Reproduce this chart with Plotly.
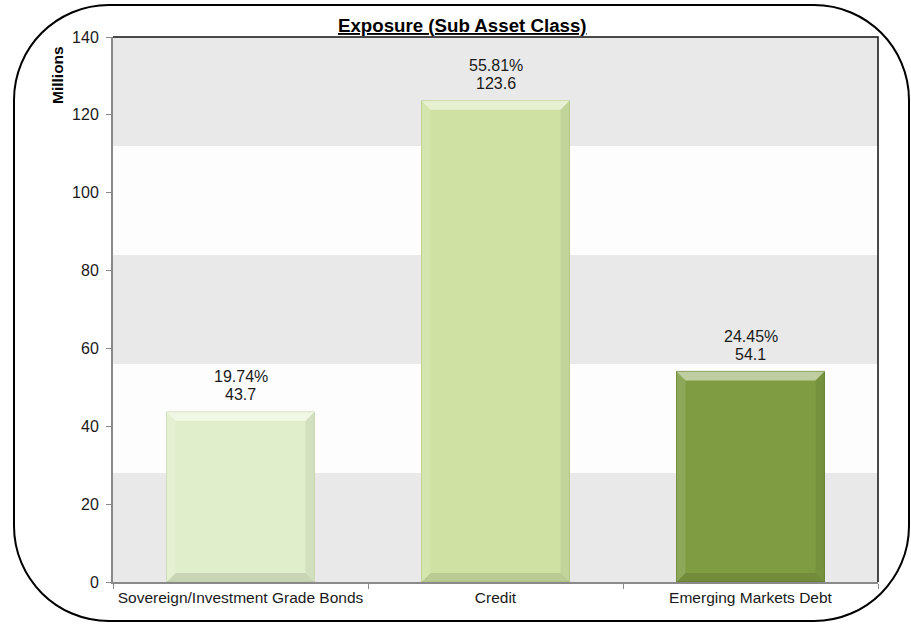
import plotly.graph_objects as go

# Exposure by sub asset class (values in millions)
categories = ["Sovereign/Investment Grade Bonds", "Credit", "Emerging Markets Debt"]
exposure = [43.7, 123.6, 54.1]
share_pct = ["19.74%", "55.81%", "24.45%"]
bar_colors = ["#e1eecb", "#cfe2a3", "#7f9c42"]
edge_colors = ["#cfdcb6", "#bccf8c", "#6a8533"]
y_ticks = [0, 20, 40, 60, 80, 100, 120, 140]

W, H = 911, 624
ML, MR, MT, MB = 113, 33, 37, 42
PW, PH = W - ML - MR, H - MT - MB
y_max = 140
font_family = "Arial, Liberation Sans, sans-serif"
text_color = "#1a1a1a"

fig = go.Figure()
fig.add_trace(go.Bar(
    x=categories,
    y=exposure,
    marker=dict(color=bar_colors, line=dict(color=edge_colors, width=1)),
    width=0.58,
    hoverinfo="skip",
))

shapes = []

# alternating horizontal bands behind the bars
n_bands = 5
step = y_max / n_bands
for k in range(n_bands):
    shapes.append(dict(
        type="rect", xref="paper", yref="y", layer="below",
        x0=0, x1=1, y0=k * step, y1=(k + 1) * step,
        fillcolor="#e9e9e9" if k % 2 == 0 else "#fdfdfd",
        line=dict(width=0),
    ))

# bevel highlights / shading on each bar
px_x = 1.0 / (PW / 3)        # one pixel in category units
px_y = y_max / PH            # one pixel in value units
bev = 9
half = 0.29
for i, v in enumerate(exposure):
    x0, x1 = i - half, i + half
    bx, by = bev * px_x, bev * px_y
    # top highlight
    shapes.append(dict(
        type="path", xref="x", yref="y", layer="above",
        path=f"M {x0},{v} L {x1},{v} L {x1-bx},{v-by} L {x0+bx},{v-by} Z",
        fillcolor="rgba(255,255,255,0.5)", line=dict(width=0),
    ))
    # left highlight
    shapes.append(dict(
        type="path", xref="x", yref="y", layer="above",
        path=f"M {x0},{v} L {x0+bx},{v-by} L {x0+bx},{by} L {x0},0 Z",
        fillcolor="rgba(255,255,255,0.12)", line=dict(width=0),
    ))
    # right shade
    shapes.append(dict(
        type="path", xref="x", yref="y", layer="above",
        path=f"M {x1},{v} L {x1-bx},{v-by} L {x1-bx},{by} L {x1},0 Z",
        fillcolor="rgba(0,0,0,0.06)", line=dict(width=0),
    ))
    # bottom shade
    shapes.append(dict(
        type="path", xref="x", yref="y", layer="above",
        path=f"M {x0},0 L {x1},0 L {x1-bx},{by} L {x0+bx},{by} Z",
        fillcolor="rgba(0,0,0,0.10)", line=dict(width=0),
    ))

# black top and right frame of the plot area
shapes.append(dict(
    type="path", xref="paper", yref="paper", layer="above",
    path="M 0,1 L 1,1 L 1,0",
    line=dict(color="#111111", width=1.5),
))


# rounded outer border (pixel coordinates converted to paper units)
def to_paper(px, py):
    return (px - ML) / PW, (H - MB - py) / PH


left, right, top, bottom, r = 14, 909, 5, 621, 95
kr = r * (1 - 0.5523)   # cubic control offset for a circular corner
pts = [
    ("M", [(left + r, top)]),
    ("L", [(right - r, top)]),
    ("C", [(right - kr, top), (right, top + kr), (right, top + r)]),
    ("L", [(right, bottom - r)]),
    ("C", [(right, bottom - kr), (right - kr, bottom), (right - r, bottom)]),
    ("L", [(left + r, bottom)]),
    ("C", [(left + kr, bottom), (left, bottom - kr), (left, bottom - r)]),
    ("L", [(left, top + r)]),
    ("C", [(left, top + kr), (left + kr, top), (left + r, top)]),
]
path = ""
for cmd, coords in pts:
    path += cmd + " " + " ".join("{:.5f},{:.5f}".format(*to_paper(px, py)) for px, py in coords) + " "
path += "Z"
shapes.append(dict(
    type="path", xref="paper", yref="paper", layer="above",
    path=path, line=dict(color="#000000", width=2), fillcolor="rgba(0,0,0,0)",
))

# value labels above each bar: share on the first line, amount below it
annotations = []
label_font = dict(family=font_family, size=16, color=text_color)
for cat, v, pct in zip(categories, exposure, share_pct):
    annotations.append(dict(
        x=cat, y=v, xref="x", yref="y", text=f"{v:.1f}",
        showarrow=False, xanchor="center", yanchor="middle", yshift=17,
        font=label_font,
    ))
    annotations.append(dict(
        x=cat, y=v, xref="x", yref="y", text=pct,
        showarrow=False, xanchor="center", yanchor="middle", yshift=35,
        font=label_font,
    ))

annotations += [
    dict(
        text="<b><u>Exposure (Sub Asset Class)</u></b>",
        xref="paper", yref="paper", x=(462 - ML) / PW, y=(H - MB - 25) / PH,
        xanchor="center", yanchor="middle", showarrow=False,
        font=dict(family=font_family, size=18.7, color="#000000"),
    ),
    dict(
        text="<b>Millions</b>",
        xref="paper", yref="paper", x=(57 - ML) / PW, y=(H - MB - 75) / PH,
        xanchor="center", yanchor="middle", textangle=-90, showarrow=False,
        font=dict(family=font_family, size=15.5, color="#000000"),
    ),
]

fig.update_layout(
    width=W, height=H,
    margin=dict(l=ML, r=MR, t=MT, b=MB, autoexpand=False),
    paper_bgcolor="#ffffff",
    plot_bgcolor="#fdfdfd",
    showlegend=False,
    bargap=0.42,
    shapes=shapes,
    annotations=annotations,
    font=dict(family=font_family, size=16, color=text_color),
)

fig.update_xaxes(
    showgrid=False, zeroline=False, automargin=False,
    showline=True, linecolor="#8a8a8a", linewidth=2,
    ticks="outside", tickson="boundaries", ticklen=5, tickcolor="#8a8a8a",
    tickangle=0,
    tickfont=dict(family=font_family, size=15.5, color=text_color),
)
fig.update_yaxes(
    range=[0, y_max], tickvals=y_ticks,
    showgrid=False, zeroline=False, automargin=False,
    showline=True, linecolor="#8a8a8a", linewidth=2,
    ticks="outside", ticklen=5, tickcolor="#8a8a8a",
    ticklabelstandoff=4,
    tickfont=dict(family=font_family, size=16, color=text_color),
)

fig.write_html("out.html")
